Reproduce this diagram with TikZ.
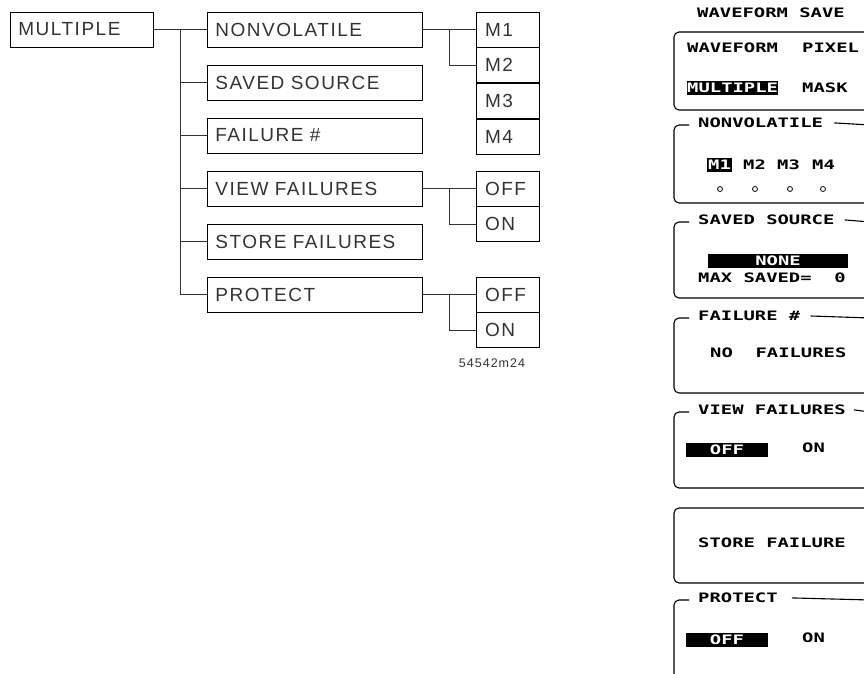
\documentclass[tikz,border=0pt]{standalone}
\usepackage{fontspec}
\setmainfont[LetterSpace=8, WordSpace=1.8]{Liberation Sans}
\newfontfamily\lcdfont[FakeStretch=1.45]{DejaVu Sans Mono}
\usetikzlibrary{positioning,calc}

\begin{document}
\begin{tikzpicture}[
    x=1pt, y=-1pt,
    node distance=17.3pt,
    menu/.style={draw, line width=0.7pt, anchor=west, minimum height=35pt, text width=199pt, inner xsep=8pt, align=left, text=black!80, font=\fontsize{19}{19}\selectfont},
    cell/.style={draw, line width=0.7pt, anchor=west, minimum height=35pt, text width=45pt, inner xsep=9pt, align=left, text=black!80, font=\fontsize{19}{19}\selectfont},
    wire/.style={line width=0.6pt, draw=black!80},
    panel/.style={line width=1.1pt, rounded corners=5pt},
    lcd/.style={font=\lcdfont\bfseries\fontsize{13}{13}\selectfont, inner sep=0pt, anchor=mid west},
    inv/.style={lcd, fill=black, text=white, inner ysep=2pt},
    dot/.style={circle, draw, line width=0.8pt, minimum size=5pt, inner sep=0pt}
  ]
  \useasboundingbox (0,0) rectangle (864,674);
  \clip (0,0) rectangle (864,674);

  % menu tree
  \node[menu, text width=127pt] (multiple) at (10,29.5) {MULTIPLE};
  \node[menu] (nonvol) at (207,29.5) {NONVOLATILE};
  \node[menu, below=of nonvol] (saved) {SAVED SOURCE};
  \node[menu, below=of saved] (failnum) {FAILURE \#};
  \node[menu, below=of failnum] (view) {VIEW FAILURES};
  \node[menu, below=of view] (store) {STORE FAILURES};
  \node[menu, below=of store] (protect) {PROTECT};

  \node[cell] (m1) at ([xshift=53pt]nonvol.east) {M1};
  \node[cell, below=0pt of m1] (m2) {M2};
  \node[cell, below=0pt of m2] (m3) {M3};
  \node[cell, below=0pt of m3] (m4) {M4};
  \node[cell] (voff) at ([xshift=53pt]view.east) {OFF};
  \node[cell, below=0pt of voff] (von) {ON};
  \node[cell] (poff) at ([xshift=53pt]protect.east) {OFF};
  \node[cell, below=0pt of poff] (pon) {ON};

  \node[text=black!80, font=\fontsize{12.5}{12.5}\selectfont] (figid) at (492,363) {54542m24};

  \coordinate (trunk) at ($(multiple.east)!0.5!(nonvol.west)$);
  \draw[wire] (multiple.east) -- (nonvol.west);
  \draw[wire] (trunk) |- (protect.west);
  \foreach \n in {saved,failnum,view,store}
    \draw[wire] (trunk |- \n.west) -- (\n.west);

  \draw[wire] (nonvol.east) -- (m1.west);
  \draw[wire] ($(nonvol.east)!0.5!(m1.west)$) |- (m2.west);
  \draw[wire] (view.east) -- (voff.west);
  \draw[wire] ($(view.east)!0.5!(voff.west)$) |- (von.west);
  \draw[wire] (protect.east) -- (poff.west);
  \draw[wire] ($(protect.east)!0.5!(poff.west)$) |- (pon.west);

  % screen
  \node[lcd] (title) at (697,15) {WAVEFORM SAVE};
  \draw[panel] (870,32) -- (674,32) -- (674,110) -- (870,110);
  \node[lcd] (wfm) at (687,50) {WAVEFORM};
  \node[lcd] (pix) at (802,50) {PIXEL};
  \node[inv] (mult) at (687,90) {MULTIPLE};
  \node[lcd] (mask) at (802,90) {MASK};

  \node[lcd] (tnv) at (698,125) {NONVOLATILE};
  \draw[panel] (689,125) -- (674,125) -- (674,203) -- (870,203);
  \draw[panel] ([xshift=11pt]tnv.east) -- (870,125);
  \node[inv, inner xsep=1pt] (sm1) at (707,167) {M1};
  \node[lcd] (sm2) at (743,167) {M2};
  \node[lcd] (sm3) at (777,167) {M3};
  \node[lcd] (sm4) at (812,167) {M4};
  \foreach \x [count=\i] in {720,755,790,823}
    \node[dot] (dot\i) at (\x,189) {};

  \node[lcd] (tss) at (698,222) {SAVED SOURCE};
  \draw[panel] (689,222) -- (674,222) -- (674,298) -- (870,298);
  \draw[panel] ([xshift=10pt]tss.east) -- (870,222);
  \node[inv, anchor=center, minimum width=140pt] (none) at (778,261) {NONE};
  \node[lcd] (maxs) at (698,280) {MAX SAVED=\ \ 0};

  \node[lcd] (tfn) at (698,318) {FAILURE \#};
  \draw[panel] (689,318) -- (674,318) -- (674,393) -- (870,393);
  \draw[panel] ([xshift=10pt]tfn.east) -- (870,318);
  \node[lcd] (nofail) at (710,355) {NO\ \ FAILURES};

  \node[lcd] (tvf) at (698,412) {VIEW FAILURES};
  \draw[panel] (689,412) -- (674,412) -- (674,488) -- (870,488);
  \draw[panel] ([xshift=8pt]tvf.east) -- (870,412);
  \node[inv, anchor=center, minimum width=82pt] (vfoff) at (727,450) {OFF};
  \node[lcd] (vfon) at (802,450) {ON};

  \draw[panel] (870,508) -- (674,508) -- (674,583) -- (870,583);
  \node[lcd] (stf) at (698,545) {STORE FAILURE};

  \node[lcd] (tpr) at (698,600) {PROTECT};
  \draw[panel] (689,600) -- (674,600) -- (674,690);
  \draw[panel] ([xshift=14pt]tpr.east) -- (870,600);
  \node[inv, anchor=center, minimum width=82pt] (proff) at (727,640) {OFF};
  \node[lcd] (pron) at (802,640) {ON};
\end{tikzpicture}
\end{document}
